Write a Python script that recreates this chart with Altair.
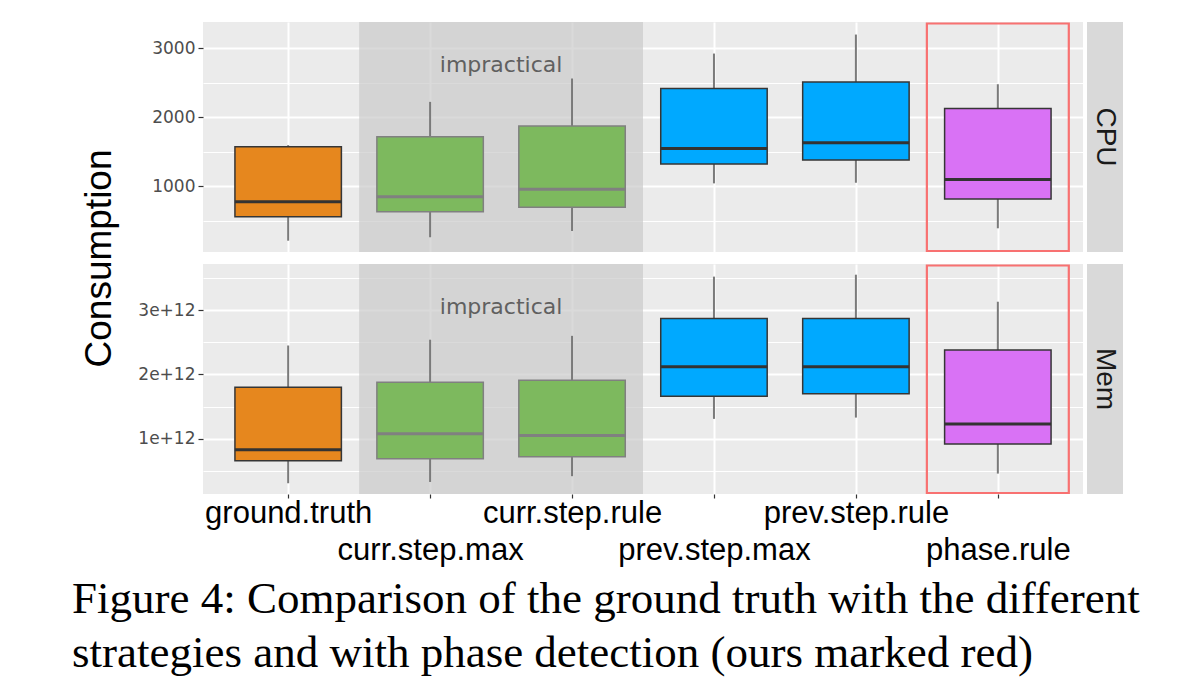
import json
import altair as alt
import pandas as pd

# ---------------- data ----------------
categories = ["ground.truth", "curr.step.max", "curr.step.rule",
              "prev.step.max", "prev.step.rule", "phase.rule"]
box_colors = ["#E6871E", "#7DB95E", "#7DB95E", "#00A9FF", "#00A9FF", "#D972F5"]
impractical = ["curr.step.max", "curr.step.rule"]
ours = ["phase.rule"]
facets = ["CPU", "Mem"]

cpu_lower = [207, 257, 348, 1039, 1048, 387]
cpu_q1 = [555, 628, 691, 1319, 1377, 812]
cpu_median = [773, 845, 952, 1546, 1628, 1097]
cpu_q3 = [1570, 1715, 1870, 2416, 2512, 2126]
cpu_upper = [1594, 2222, 2561, 2923, 3199, 2478]

mem_lower = [0.31e12, 0.33e12, 0.42e12, 1.31e12, 1.33e12, 0.46e12]
mem_q1 = [0.66e12, 0.69e12, 0.72e12, 1.66e12, 1.70e12, 0.92e12]
mem_median = [0.83e12, 1.08e12, 1.05e12, 2.12e12, 2.12e12, 1.23e12]
mem_q3 = [1.80e12, 1.88e12, 1.91e12, 2.87e12, 2.87e12, 2.38e12]
mem_upper = [2.45e12, 2.54e12, 2.60e12, 3.52e12, 3.55e12, 3.13e12]

cpu_ticks = [500, 1000, 1500, 2000, 2500, 3000]
mem_ticks = [0.5e12, 1.0e12, 1.5e12, 2.0e12, 2.5e12, 3.0e12, 3.5e12]
cpu_domain = [43, 3381]
mem_domain = [0.143e12, 3.716e12]

caption = ["Figure 4: Comparison of the ground truth with the different",
           "strategies and with phase detection (ours marked red)"]
region_label = "impractical"

# ---------------- tables ----------------
stats = {
    "CPU": (cpu_lower, cpu_q1, cpu_median, cpu_q3, cpu_upper),
    "Mem": (mem_lower, mem_q1, mem_median, mem_q3, mem_upper),
}
rows = []
for f in facets:
    lo, q1, md, q3, up = stats[f]
    for i, c in enumerate(categories):
        rows.append(dict(facet=f, strategy=c, idx=i + 1, lower=lo[i], q1=q1[i],
                         median=md[i], q3=q3[i], upper=up[i],
                         impractical=c in impractical))
df = pd.DataFrame(rows)

imp_idx = [categories.index(c) + 1 for c in impractical]
region_df = pd.DataFrame([dict(x0=min(imp_idx) - 0.5, x1=max(imp_idx) + 0.5,
                               xm=sum(imp_idx) / len(imp_idx), label=region_label)])
ours_idx = [categories.index(c) + 1 for c in ours]
ours_df = pd.DataFrame([dict(x0=min(ours_idx) - 0.5, x1=max(ours_idx) + 0.5)])

W, H, SW = 880, 230, 36
xscale = alt.Scale(domain=[0.4, len(categories) + 0.6], nice=False, zero=False)
names = json.dumps(categories)
xlabel_expr = (f"datum.value % 2 === 1 ? {names}[datum.value - 1] : "
               f"['', {names}[datum.value - 1]]")


def panel(facet, ticks, domain, major, label_expr, bottom, show_title):
    d = df[df.facet == facet]
    if bottom:
        xaxis = alt.Axis(values=list(range(1, len(categories) + 1)), title=None,
                         domain=False, grid=True, gridColor="white", gridWidth=2,
                         ticks=True, tickColor="#333333", tickSize=4, tickWidth=1.2,
                         labelExpr=xlabel_expr, labelFont="Liberation Sans",
                         labelFontSize=31, labelColor="black", labelLineHeight=37,
                         labelBaseline="top", labelPadding=0, labelFlush=False,
                         labelOverlap=False, labelLimit=1000)
    else:
        xaxis = alt.Axis(values=list(range(1, len(categories) + 1)), title=None,
                         domain=False, grid=True, gridColor="white", gridWidth=2,
                         ticks=False, labels=False)
    test = f"datum.value % {major} === 0"
    yaxis_kw = dict(values=ticks, domain=False, grid=True, gridColor="white",
                    gridWidth={"condition": {"test": test, "value": 2}, "value": 1},
                    tickColor="#333333", tickSize=5, tickWidth=1.2,
                    tickOpacity={"condition": {"test": test, "value": 1}, "value": 0},
                    labelExpr=label_expr, labelFont="DejaVu Sans", labelFontSize=17,
                    labelColor="#4D4D4D", labelPadding=3)
    if show_title:
        yaxis = alt.Axis(title="Consumption", titleFont="Liberation Sans",
                         titleFontSize=37, titleFontWeight="normal", titleColor="black",
                         titleAngle=270, titleBaseline="alphabetic",
                         titleX=-93, titleY=H + 6, **yaxis_kw)
    else:
        yaxis = alt.Axis(title=None, **yaxis_kw)
    yscale = alt.Scale(domain=domain, nice=False, zero=False)

    def X(field):
        return alt.X(f"{field}:Q", scale=xscale, axis=xaxis)

    def Y(field):
        return alt.Y(f"{field}:Q", scale=yscale, axis=yaxis)

    shade = alt.Chart(region_df).mark_rect(fill="#CACACA", opacity=0.7).encode(
        x=X("x0"), x2="x1", y=alt.value(0), y2=alt.value(H))
    whisk = alt.Chart(d).mark_rule(color="#7A7A7A", strokeWidth=2).encode(
        x=X("idx"), y=Y("lower"), y2="upper")
    box = alt.Chart(d).mark_rect(strokeWidth=1.5).transform_calculate(
        xl="datum.idx - 0.375", xr="datum.idx + 0.375").encode(
        x=X("xl"), x2="xr", y=Y("q1"), y2="q3",
        color=alt.Color("strategy:N", scale=alt.Scale(domain=categories, range=box_colors),
                        legend=None),
        stroke=alt.condition("datum.impractical", alt.value("#808080"), alt.value("#363636")))
    med = alt.Chart(d).mark_rule(strokeWidth=3).transform_calculate(
        xl="datum.idx - 0.375", xr="datum.idx + 0.375").encode(
        x=X("xl"), x2="xr", y=Y("median"),
        color=alt.condition("datum.impractical", alt.value("#808080"), alt.value("#333333")))
    red = alt.Chart(ours_df).mark_rect(filled=False, stroke="#F87171", strokeWidth=2.2).encode(
        x=X("x0"), x2="x1", y=alt.value(1.5), y2=alt.value(H - 1))
    txt = alt.Chart(region_df).mark_text(font="DejaVu Sans", fontSize=22, color="#606060",
                                         baseline="top", align="center").encode(
        x=X("xm"), y=alt.value(33), text="label:N")
    return alt.layer(shade, whisk, box, med, red, txt).properties(
        width=W, height=H, view=alt.ViewBackground(fill="#EBEBEB", stroke=None))


def strip(facet):
    return alt.Chart(alt.Data(values=[{"facet": facet}])).mark_text(
        font="Liberation Sans", fontSize=28, color="#1A1A1A", angle=90,
        align="center", baseline="middle").encode(
        x=alt.value(SW / 2), y=alt.value(H / 2), text="facet:N").properties(
        width=SW, height=H, view=alt.ViewBackground(fill="#D9D9D9", stroke=None))


cpu = panel("CPU", cpu_ticks, cpu_domain, 1000,
            "datum.value % 1000 === 0 ? format(datum.value, 'd') : ''", False, True)
mem = panel("Mem", mem_ticks, mem_domain, "1e12",
            "datum.value % 1e12 === 0 ? format(datum.value / 1e12, 'd') + 'e+12' : ''",
            True, False)

chart = alt.concat(cpu, strip("CPU"), mem, strip("Mem"), columns=2, bounds="flush",
                   spacing={"row": 12, "column": 4}).properties(
    title=alt.TitleParams(text=caption, orient="bottom", anchor="start",
                          font="Liberation Serif", fontSize=45, fontWeight="normal",
                          color="black", lineHeight=54, offset=12, dx=-8),
    padding={"left": 64, "top": 14, "right": 5, "bottom": 5},
).configure(background="white", view=alt.ViewConfig(fill="#EBEBEB", stroke=None))

chart.save("out.html", embed_options={"renderer": "svg", "actions": False})
